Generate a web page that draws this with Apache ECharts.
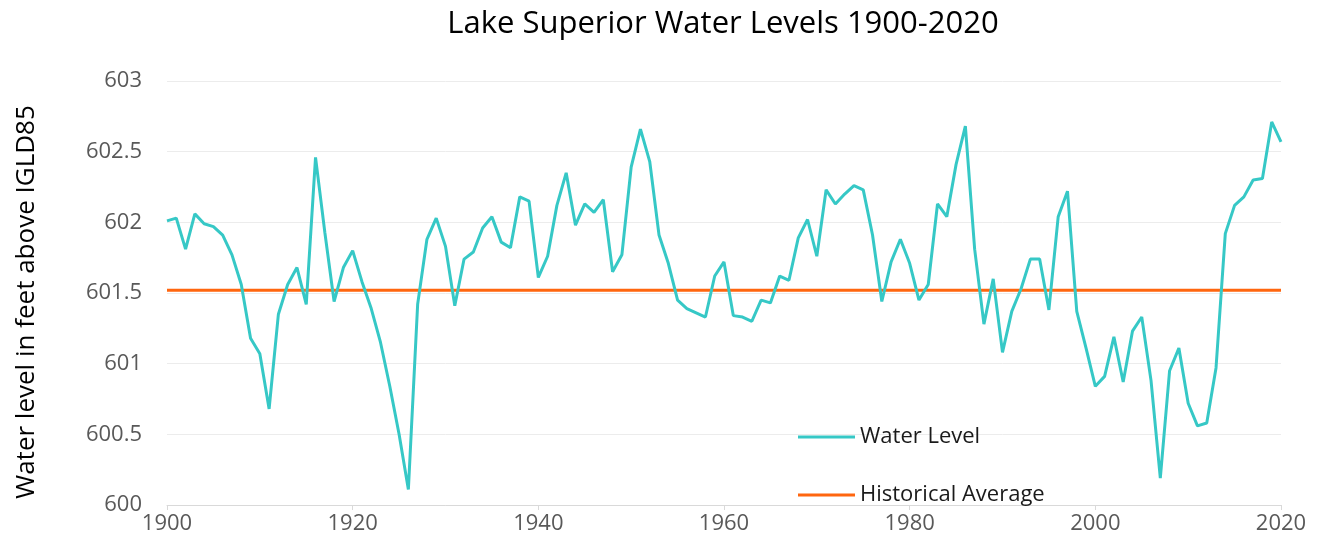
<!DOCTYPE html>
<html>
<head>
<meta charset="utf-8">
<script src="https://cdn.jsdelivr.net/npm/echarts@6/dist/echarts.min.js"></script>
<style>
html,body{margin:0;padding:0;background:#fff;}
#c{width:1322px;height:551px;}
</style>
</head>
<body>
<div id="c"></div>
<script>
const years = [];
for (let y = 1900; y <= 2020; y++) years.push(y);

const waterLevel = [
  602.01, 602.03, 601.81, 602.06, 601.99, 601.97, 601.91, 601.77, 601.56, 601.18,
  601.07, 600.68, 601.35, 601.56, 601.68, 601.42, 602.46, 601.93, 601.44, 601.68,
  601.80, 601.58, 601.39, 601.15, 600.84, 600.50, 600.11, 601.42, 601.88, 602.03,
  601.83, 601.41, 601.74, 601.79, 601.96, 602.04, 601.86, 601.82, 602.18, 602.15,
  601.61, 601.76, 602.12, 602.35, 601.98, 602.13, 602.07, 602.16, 601.65, 601.77,
  602.39, 602.66, 602.43, 601.91, 601.71, 601.45, 601.39, 601.36, 601.33, 601.62,
  601.72, 601.34, 601.33, 601.30, 601.45, 601.43, 601.62, 601.59, 601.89, 602.02,
  601.76, 602.23, 602.13, 602.20, 602.26, 602.23, 601.91, 601.44, 601.72, 601.88,
  601.71, 601.45, 601.56, 602.13, 602.04, 602.41, 602.68, 601.81, 601.28, 601.60,
  601.08, 601.37, 601.53, 601.74, 601.74, 601.38, 602.04, 602.22, 601.37, 601.11,
  600.84, 600.91, 601.19, 600.87, 601.23, 601.33, 600.88, 600.19, 600.95, 601.11,
  600.72, 600.56, 600.58, 600.97, 601.92, 602.12, 602.18, 602.30, 602.31, 602.71,
  602.57
];

const historicalAverage = 601.52;

const seriesNames = ['Water Level', 'Historical Average'];
const xTicks = { min: 1900, max: 2020, interval: 20 };
const yTicks = { min: 600, max: 603, interval: 0.5 };

const levelData = years.map((y, i) => [y, waterLevel[i]]);
const avgData = years.map(y => [y, historicalAverage]);

const FONT = '"Open Sans", sans-serif';

const chart = echarts.init(document.getElementById('c'), null, { renderer: 'canvas' });
chart.setOption({
  animation: false,
  backgroundColor: '#ffffff',
  title: {
    text: 'Lake Superior Water Levels 1900-2020',
    left: 718,
    textAlign: 'center',
    top: 4,
    textStyle: { fontFamily: FONT, fontSize: 31, fontWeight: 'normal', color: '#000000' }
  },
  legend: {
    data: seriesNames,
    orient: 'vertical',
    left: 793,
    top: 421,
    itemGap: 36,
    itemWidth: 57,
    itemHeight: 3,
    icon: 'rect',
    itemStyle: { borderWidth: 0 },
    textStyle: { fontFamily: FONT, fontSize: 22, color: '#1a1a1a' }
  },
  grid: { left: 167, right: 41, top: 81, bottom: 46 },
  xAxis: {
    type: 'value',
    min: xTicks.min,
    max: xTicks.max,
    interval: xTicks.interval,
    axisLine: { show: true, lineStyle: { color: '#d9d9d9', width: 1 } },
    axisTick: { show: true, length: 5, lineStyle: { color: '#d9d9d9' } },
    splitLine: { show: false },
    axisLabel: {
      fontFamily: FONT, fontSize: 22, color: '#595959', margin: 8,
      formatter: v => String(v)
    }
  },
  yAxis: {
    type: 'value',
    min: yTicks.min,
    max: yTicks.max,
    interval: yTicks.interval,
    name: 'Water level in feet above IGLD85',
    nameLocation: 'middle',
    nameGap: 127,
    nameRotate: 90,
    nameTextStyle: { fontFamily: FONT, fontSize: 26, color: '#000000', padding: [0, 18, 0, 0] },
    axisLine: { show: false },
    axisTick: { show: false },
    splitLine: { show: true, lineStyle: { color: '#ececec', width: 1 } },
    axisLabel: {
      fontFamily: FONT, fontSize: 22, color: '#595959', margin: 25,
      formatter: v => String(Math.round(v * 10) / 10)
    }
  },
  series: [
    {
      name: seriesNames[0],
      type: 'line',
      data: levelData,
      showSymbol: false,
      symbol: 'none',
      lineStyle: { color: '#36c8c6', width: 3 },
      itemStyle: { color: '#36c8c6' },
      z: 3
    },
    {
      name: seriesNames[1],
      type: 'line',
      data: avgData,
      showSymbol: false,
      symbol: 'none',
      lineStyle: { color: '#ff660f', width: 3 },
      itemStyle: { color: '#ff660f' },
      z: 2
    }
  ]
});
</script>
</body>
</html>
